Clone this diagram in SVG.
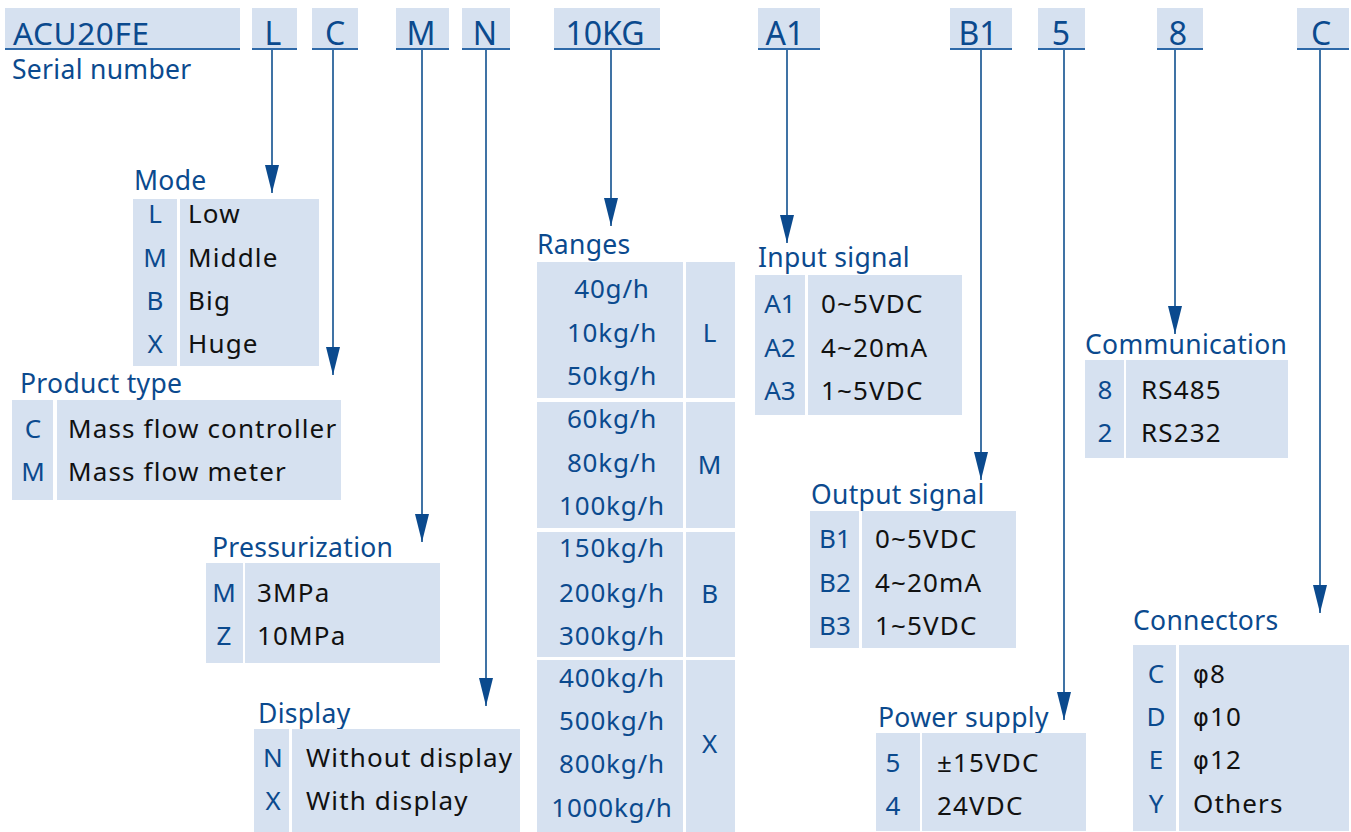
<svg xmlns="http://www.w3.org/2000/svg" width="1351" height="832" viewBox="0 0 1351 832">
<defs>
<style>
text{font-family:"Noto Sans","Open Sans","Liberation Sans",sans-serif;}
.hb{fill:#d6e1f0;}
.ul{stroke:#2e69a8;stroke-width:2;}
.ht{font-size:32px;fill:#0b4a8e;text-anchor:middle;}
.ti{font-size:26.5px;fill:#0b4a8e;letter-spacing:0.3px;}
.cell{fill:#d6e1f0;}
.k{font-size:26px;fill:#0b4a8e;text-anchor:middle;}
.v{font-size:26px;fill:#111;letter-spacing:1.15px;}
.r{font-size:26px;fill:#0b4a8e;text-anchor:middle;letter-spacing:0.8px;}
.phi{font-family:"DejaVu Sans",sans-serif;font-size:24px;}
.ln{stroke:#10508f;stroke-width:1.6;fill:none;marker-end:url(#ah);}
</style>
<marker id="ah" viewBox="0 0 28 14" refX="28" refY="7" markerWidth="28" markerHeight="14" markerUnits="userSpaceOnUse" orient="auto">
<path d="M0,0 L28,7 L0,14 z" fill="#0b4a8e"/>
</marker>
</defs>
<rect width="1351" height="832" fill="#fff"/>

<g id="header">
<rect class="hb" x="5" y="8" width="235" height="42"/><line class="ul" x1="5" y1="49" x2="240" y2="49"/>
<text x="13" y="45" style="font-size:31.5px;fill:#0b4a8e;letter-spacing:0.6px">ACU20FE</text>
<rect class="hb" x="252" y="8" width="45" height="42"/><line class="ul" x1="252" y1="49" x2="297" y2="49"/>
<text class="ht" x="273" y="45">L</text>
<rect class="hb" x="312" y="8" width="46" height="42"/><line class="ul" x1="312" y1="49" x2="358" y2="49"/>
<text class="ht" x="335" y="45">C</text>
<rect class="hb" x="396" y="8" width="53" height="42"/><line class="ul" x1="396" y1="49" x2="449" y2="49"/>
<text class="ht" x="421" y="45">M</text>
<rect class="hb" x="462" y="8" width="48" height="42"/><line class="ul" x1="462" y1="49" x2="510" y2="49"/>
<text class="ht" x="485" y="45">N</text>
<rect class="hb" x="554" y="8" width="106" height="42"/><line class="ul" x1="554" y1="49" x2="660" y2="49"/>
<text class="ht" x="605" y="45">10KG</text>
<rect class="hb" x="758" y="8" width="62" height="42"/><line class="ul" x1="758" y1="49" x2="820" y2="49"/>
<text class="ht" x="785" y="45">A1</text>
<rect class="hb" x="950" y="8" width="62" height="42"/><line class="ul" x1="950" y1="49" x2="1012" y2="49"/>
<text class="ht" x="978" y="45">B1</text>
<rect class="hb" x="1038" y="8" width="47" height="42"/><line class="ul" x1="1038" y1="49" x2="1085" y2="49"/>
<text class="ht" x="1061" y="45">5</text>
<rect class="hb" x="1157" y="8" width="46" height="42"/><line class="ul" x1="1157" y1="49" x2="1203" y2="49"/>
<text class="ht" x="1178" y="45">8</text>
<rect class="hb" x="1297" y="8" width="52" height="42"/><line class="ul" x1="1297" y1="49" x2="1349" y2="49"/>
<text class="ht" x="1321" y="45">C</text>
<text class="ti" x="12" y="79">Serial number</text>
</g>

<g id="connectors">
<line class="ln" x1="272" y1="50" x2="272" y2="193"/>
<line class="ln" x1="333" y1="50" x2="333" y2="375"/>
<line class="ln" x1="422" y1="50" x2="422" y2="542"/>
<line class="ln" x1="486" y1="50" x2="486" y2="706"/>
<line class="ln" x1="611" y1="50" x2="611" y2="226"/>
<line class="ln" x1="787" y1="50" x2="787" y2="243"/>
<line class="ln" x1="981" y1="50" x2="981" y2="480"/>
<line class="ln" x1="1064" y1="50" x2="1064" y2="720"/>
<line class="ln" x1="1175" y1="50" x2="1175" y2="334"/>
<line class="ln" x1="1320" y1="50" x2="1320" y2="613"/>
</g>

<g id="mode">
<text class="ti" x="134" y="190">Mode</text>
<rect class="cell" x="133" y="199" width="44" height="167"/>
<rect class="cell" x="180" y="199" width="139" height="167"/>
<text class="k" x="155" y="223">L</text><text class="v" x="188" y="223">Low</text>
<text class="k" x="155" y="267">M</text><text class="v" x="188" y="267">Middle</text>
<text class="k" x="155" y="310">B</text><text class="v" x="188" y="310">Big</text>
<text class="k" x="155" y="353">X</text><text class="v" x="188" y="353">Huge</text>
</g>

<g id="product-type">
<text class="ti" x="20" y="393">Product type</text>
<rect class="cell" x="12" y="400" width="41" height="100"/>
<rect class="cell" x="57" y="400" width="284" height="100"/>
<text class="k" x="33" y="438">C</text><text class="v" x="68" y="438">Mass flow controller</text>
<text class="k" x="33" y="481">M</text><text class="v" x="68" y="481">Mass flow meter</text>
</g>

<g id="pressurization">
<text class="ti" x="212" y="557">Pressurization</text>
<rect class="cell" x="206" y="563" width="37" height="100"/>
<rect class="cell" x="245" y="563" width="195" height="100"/>
<text class="k" x="224" y="602">M</text><text class="v" x="257" y="602">3MPa</text>
<text class="k" x="224" y="645">Z</text><text class="v" x="257" y="645">10MPa</text>
</g>

<g id="display">
<text class="ti" x="258" y="723">Display</text>
<rect class="cell" x="254" y="729" width="35" height="103"/>
<rect class="cell" x="292" y="729" width="228" height="103"/>
<text class="k" x="273" y="767">N</text><text class="v" x="306" y="767">Without display</text>
<text class="k" x="273" y="810">X</text><text class="v" x="306" y="810">With display</text>
</g>

<g id="ranges">
<text class="ti" x="537" y="254">Ranges</text>
<rect class="cell" x="537" y="262" width="146" height="136"/><rect class="cell" x="686" y="262" width="49" height="136"/>
<rect class="cell" x="537" y="402" width="146" height="126"/><rect class="cell" x="686" y="402" width="49" height="126"/>
<rect class="cell" x="537" y="532" width="146" height="125"/><rect class="cell" x="686" y="532" width="49" height="125"/>
<rect class="cell" x="537" y="660" width="146" height="172"/><rect class="cell" x="686" y="660" width="49" height="172"/>
<text class="r" x="612" y="298">40g/h</text>
<text class="r" x="612" y="342">10kg/h</text>
<text class="r" x="612" y="385">50kg/h</text>
<text class="r" x="612" y="428">60kg/h</text>
<text class="r" x="612" y="472">80kg/h</text>
<text class="r" x="612" y="515">100kg/h</text>
<text class="r" x="612" y="557">150kg/h</text>
<text class="r" x="612" y="602">200kg/h</text>
<text class="r" x="612" y="645">300kg/h</text>
<text class="r" x="612" y="687">400kg/h</text>
<text class="r" x="612" y="730">500kg/h</text>
<text class="r" x="612" y="773">800kg/h</text>
<text class="r" x="612" y="817">1000kg/h</text>
<text class="r" x="710" y="342">L</text>
<text class="r" x="710" y="474">M</text>
<text class="r" x="710" y="603">B</text>
<text class="r" x="710" y="753">X</text>
</g>

<g id="input-signal">
<text class="ti" x="758" y="267">Input signal</text>
<rect class="cell" x="755" y="275" width="50" height="140"/>
<rect class="cell" x="808" y="275" width="154" height="140"/>
<text class="k" x="780" y="313">A1</text><text class="v" x="821" y="313">0~5VDC</text>
<text class="k" x="780" y="357">A2</text><text class="v" x="821" y="357">4~20mA</text>
<text class="k" x="780" y="400">A3</text><text class="v" x="821" y="400">1~5VDC</text>
</g>

<g id="output-signal">
<text class="ti" x="811" y="504">Output signal</text>
<rect class="cell" x="810" y="511" width="49" height="137"/>
<rect class="cell" x="862" y="511" width="154" height="137"/>
<text class="k" x="835" y="548">B1</text><text class="v" x="875" y="548">0~5VDC</text>
<text class="k" x="835" y="592">B2</text><text class="v" x="875" y="592">4~20mA</text>
<text class="k" x="835" y="635">B3</text><text class="v" x="875" y="635">1~5VDC</text>
</g>

<g id="power-supply">
<text class="ti" x="878" y="727">Power supply</text>
<rect class="cell" x="876" y="733" width="44" height="98"/>
<rect class="cell" x="922" y="733" width="164" height="98"/>
<text class="k" x="893" y="772">5</text><text class="v" x="937" y="772">±15VDC</text>
<text class="k" x="893" y="815">4</text><text class="v" x="937" y="815">24VDC</text>
</g>

<g id="communication">
<text class="ti" x="1085" y="354">Communication</text>
<rect class="cell" x="1085" y="360" width="39" height="98"/>
<rect class="cell" x="1126" y="360" width="162" height="98"/>
<text class="k" x="1105" y="399">8</text><text class="v" x="1141" y="399">RS485</text>
<text class="k" x="1105" y="442">2</text><text class="v" x="1141" y="442">RS232</text>
</g>

<g id="connectors-table">
<text class="ti" x="1133" y="630">Connectors</text>
<rect class="cell" x="1133" y="645" width="43" height="186"/>
<rect class="cell" x="1179" y="645" width="170" height="186"/>
<text class="k" x="1156" y="683">C</text><text class="v" x="1193" y="683"><tspan class="phi">φ</tspan>8</text>
<text class="k" x="1156" y="726">D</text><text class="v" x="1193" y="726"><tspan class="phi">φ</tspan>10</text>
<text class="k" x="1156" y="769">E</text><text class="v" x="1193" y="769"><tspan class="phi">φ</tspan>12</text>
<text class="k" x="1156" y="813">Y</text><text class="v" x="1193" y="813">Others</text>
</g>
</svg>
